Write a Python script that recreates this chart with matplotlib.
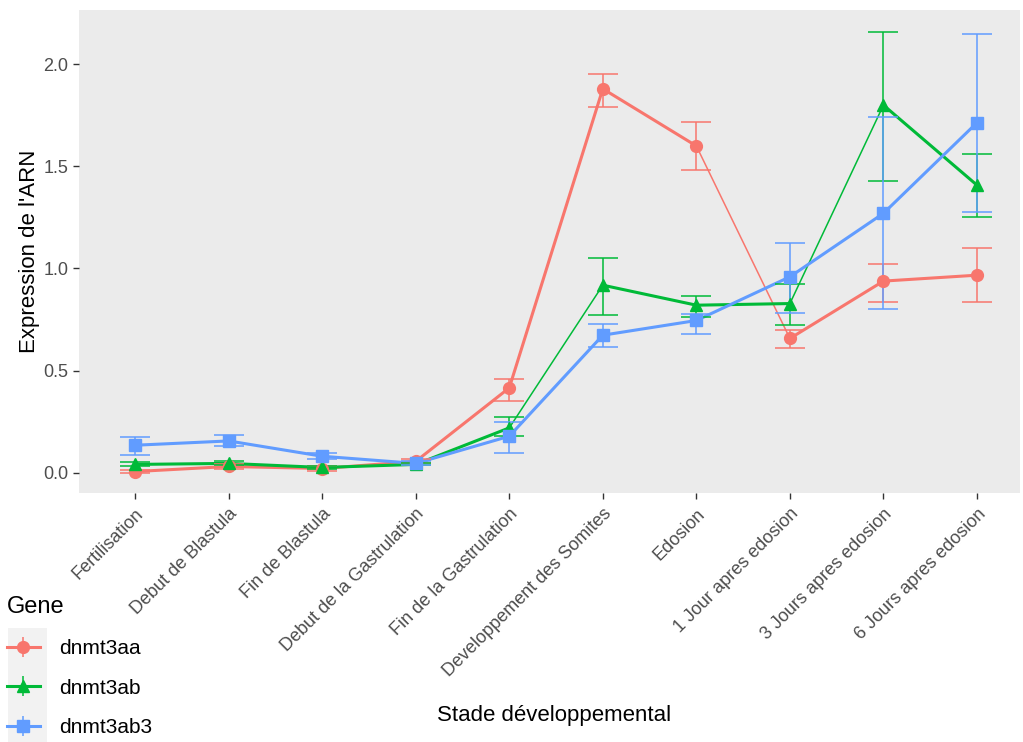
import numpy as np
import matplotlib
matplotlib.use("Agg")
import matplotlib.pyplot as plt
from matplotlib.lines import Line2D
from matplotlib.patches import Rectangle

plt.rcParams['font.family'] = ['Liberation Sans', 'DejaVu Sans']

# stades du developpement
stades = ["Fertilisation", "Debut de Blastula", "Fin de Blastula",
          "Debut de la Gastrulation", "Fin de la Gastrulation",
          "Developpement des Somites", "Edosion", "1 Jour apres edosion",
          "3 Jours apres edosion", "6 Jours apres edosion"]
genes = ["dnmt3aa", "dnmt3ab", "dnmt3ab3"]

# moyennes et bornes des barres d'erreur
aa_moy = [0.005, 0.03, 0.02, 0.055, 0.415, 1.88, 1.60, 0.657, 0.938, 0.967]
aa_bas = [0.0, 0.02, 0.01, 0.045, 0.35, 1.792, 1.48, 0.608, 0.835, 0.835]
aa_haut = [0.012, 0.04, 0.03, 0.065, 0.46, 1.952, 1.716, 0.697, 1.024, 1.101]

ab_moy = [0.04, 0.045, 0.025, 0.04, 0.219, 0.918, 0.82, 0.828, 1.80, 1.408]
ab_bas = [0.03, 0.035, 0.02, 0.035, 0.181, 0.774, 0.76, 0.722, 1.428, 1.253]
ab_haut = [0.05, 0.055, 0.03, 0.045, 0.273, 1.049, 0.866, 0.926, 2.157, 1.559]

ab3_moy = [0.134, 0.155, 0.08, 0.045, 0.178, 0.673, 0.745, 0.959, 1.27, 1.714]
ab3_bas = [0.085, 0.129, 0.065, 0.035, 0.098, 0.616, 0.68, 0.782, 0.799, 1.277]
ab3_haut = [0.175, 0.183, 0.095, 0.055, 0.248, 0.730, 0.775, 1.123, 1.740, 2.150]

couleurs = ["#F8766D", "#00BA38", "#619CFF"]
marqueurs = ["o", "^", "s"]
# segments traces plus fins
fins = {"dnmt3aa": [6], "dnmt3ab": [4, 7], "dnmt3ab3": []}

series = [(aa_moy, aa_bas, aa_haut), (ab_moy, ab_bas, ab_haut),
          (ab3_moy, ab3_bas, ab3_haut)]

fig = plt.figure(figsize=(10.23, 7.42), dpi=100)
ax = fig.add_axes([79/1023, 1 - 493/742, (1020 - 79)/1023, (493 - 10)/742])
ax.set_facecolor("#EBEBEB")
for s in ax.spines.values():
    s.set_visible(False)

x = np.arange(len(stades))
handles = []
for g, (moy, bas, haut), c, m in zip(genes, series, couleurs, marqueurs):
    moy = np.array(moy)
    err = [moy - np.array(bas), np.array(haut) - moy]
    for i in range(len(x) - 1):
        lw = 1.1 if i in fins[g] else 2.2
        ax.plot(x[i:i+2], moy[i:i+2], color=c, lw=lw, zorder=2,
                solid_capstyle="butt")
    ax.errorbar(x, moy, yerr=err, fmt="none", ecolor=c, elinewidth=1.1,
                capsize=10.8, capthick=1.1, zorder=3)
    ms = 9 if m == "^" else 8.5
    ax.plot(x, moy, ls="none", marker=m, ms=ms, color=c, zorder=4)
    h1 = Line2D([], [], color=c, lw=2.2, marker=m, ms=ms)
    h2 = Line2D([], [], color=c, ls="none", marker="|", ms=14, mew=1.1)
    handles.append((h1, h2))

ax.set_xlim(-0.6, 9.46)
ax.set_ylim(-0.1, 2.266)
ax.set_yticks([0.0, 0.5, 1.0, 1.5, 2.0])
ax.set_yticklabels(["0.0", "0.5", "1.0", "1.5", "2.0"])
ax.set_xticks(x)
ax.set_xticklabels(stades, rotation=45, ha="right", va="top",
                   rotation_mode="anchor")
ax.tick_params(axis="both", colors="#333333", labelcolor="#4D4D4D",
               labelsize=13, length=4, width=1)
ax.tick_params(axis="x", pad=5)
ax.set_ylabel("Expression de l'ARN", fontsize=16, color="black", labelpad=2.5)
ax.set_xlabel("Stade développemental", fontsize=16, color="black")
ax.xaxis.set_label_coords(0.505, -(715 - 493) / 483, transform=ax.transAxes)
ax.xaxis.label.set_va("center")

# fond gris des cles de legende
fig.add_artist(Rectangle((8/1023, 0), 39/1023, 1 - 628/742,
                         transform=fig.transFigure, facecolor="#F2F2F2",
                         edgecolor="none", zorder=0))
leg = fig.legend(handles, genes, loc="upper left",
                 bbox_to_anchor=(1/1023, 1 - 590/742), frameon=False,
                 title="Gene", fontsize=15, title_fontsize=17,
                 alignment="left", borderpad=0.3, borderaxespad=0,
                 handlelength=1.55, handletextpad=0.95, labelspacing=0.99)

fig.savefig("out.png", dpi=100)
